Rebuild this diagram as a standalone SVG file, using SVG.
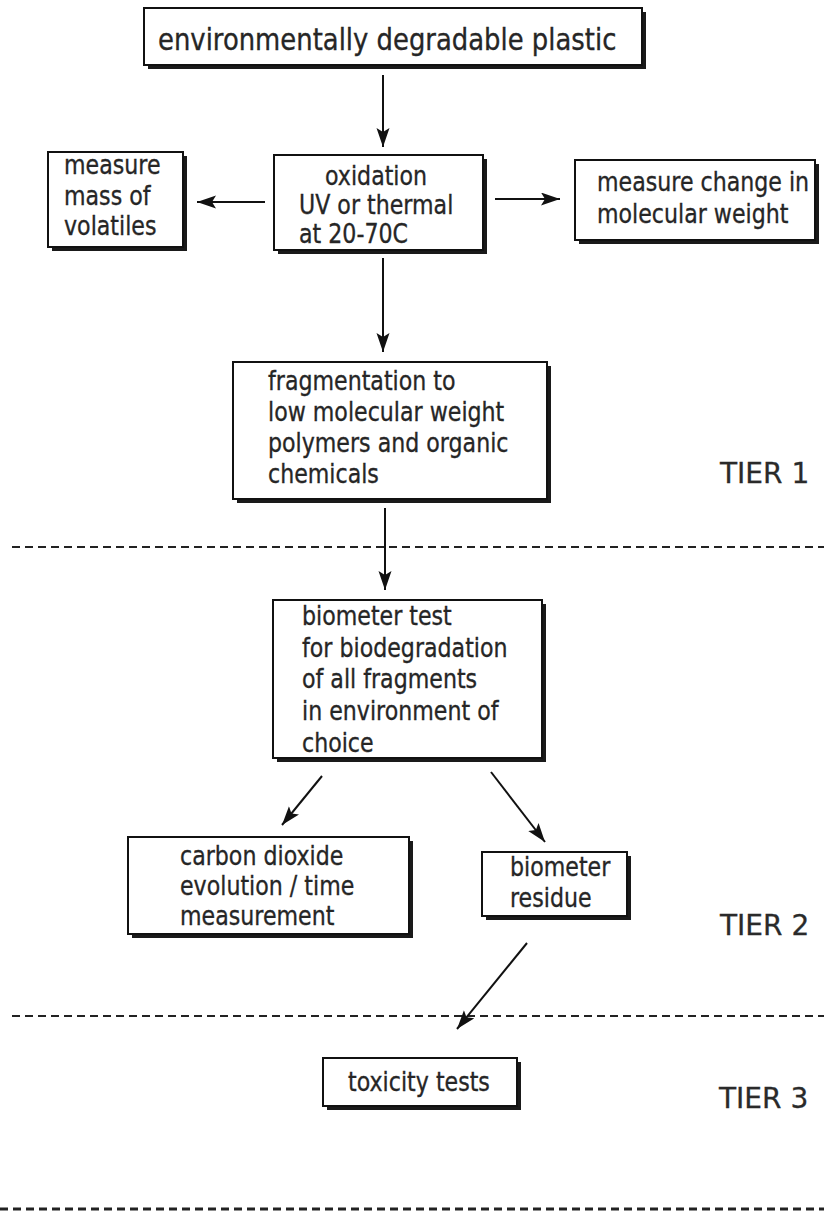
<svg xmlns="http://www.w3.org/2000/svg" width="824" height="1214" viewBox="0 0 824 1214">
<defs>
<style>
.box{fill:#fff;stroke:#111;stroke-width:2}
.sh{fill:#1a1a1a}
.t{font-family:"DejaVu Sans","Liberation Sans",sans-serif;font-size:27px;fill:#262626;stroke:#262626;stroke-width:0.35}
.ti{font-family:"DejaVu Sans","Liberation Sans",sans-serif;font-size:31px;fill:#262626;stroke:#262626;stroke-width:0.35}
.tier{font-family:"DejaVu Sans","Liberation Sans",sans-serif;font-size:28px;fill:#2a2a2a;stroke:#2a2a2a;stroke-width:0.3}
.c{stroke:#111;stroke-width:2;fill:none;marker-end:url(#ah)}
.d{stroke:#222;stroke-width:2;stroke-dasharray:8 5;fill:none}
</style>
<marker id="ah" markerUnits="userSpaceOnUse" markerWidth="21" markerHeight="14" refX="19" refY="6.5" orient="auto">
<path d="M0,0 L19,6.5 L0,13 L4,6.5 z" fill="#111"/>
</marker>
</defs>
<rect width="824" height="1214" fill="#fff"/>

<g id="dividers">
<line class="d" x1="12" y1="547" x2="824" y2="547"/>
<line class="d" x1="12" y1="1016" x2="824" y2="1016"/>
<line class="d" x1="0" y1="1209" x2="824" y2="1209" style="stroke-width:3"/>
</g>

<g id="connectors">
<line class="c" x1="383" y1="75" x2="383" y2="147"/>
<line class="c" x1="265" y1="202" x2="197" y2="202"/>
<line class="c" x1="495" y1="199" x2="560" y2="199"/>
<line class="c" x1="383" y1="258" x2="383" y2="352"/>
<line class="c" x1="385" y1="508" x2="385" y2="590"/>
<line class="c" x1="322" y1="776" x2="282" y2="825"/>
<line class="c" x1="491" y1="772" x2="545" y2="842"/>
<line class="c" x1="527" y1="943" x2="457" y2="1029"/>
</g>

<g id="n-plastic">
<rect class="sh" x="148" y="12" width="498" height="57"/>
<rect class="box" x="144" y="8" width="498" height="57"/>
<text class="ti" transform="translate(158,50) scale(0.835,1)">environmentally degradable plastic</text>
</g>

<g id="n-oxidation">
<rect class="sh" x="278" y="159" width="209" height="95"/>
<rect class="box" x="274" y="155" width="209" height="95"/>
<text class="t" transform="translate(325,185) scale(0.82,1)">oxidation</text>
<text class="t" transform="translate(299,214) scale(0.82,1)">UV or thermal</text>
<text class="t" transform="translate(299,243) scale(0.82,1)">at 20-70C</text>
</g>

<g id="n-volatiles">
<rect class="sh" x="52" y="156" width="135" height="95"/>
<rect class="box" x="48" y="152" width="135" height="95"/>
<text class="t" transform="translate(64,174) scale(0.82,1)">measure</text>
<text class="t" transform="translate(64,205) scale(0.82,1)">mass of</text>
<text class="t" transform="translate(64,235) scale(0.82,1)">volatiles</text>
</g>

<g id="n-molweight">
<rect class="sh" x="579" y="164" width="240" height="80"/>
<rect class="box" x="575" y="160" width="240" height="80"/>
<text class="t" transform="translate(597,191) scale(0.82,1)">measure change in</text>
<text class="t" transform="translate(597,223) scale(0.82,1)">molecular weight</text>
</g>

<g id="n-fragmentation">
<rect class="sh" x="237" y="366" width="314" height="137"/>
<rect class="box" x="233" y="362" width="314" height="137"/>
<text class="t" transform="translate(268,390) scale(0.82,1)">fragmentation to</text>
<text class="t" transform="translate(268,421) scale(0.82,1)">low molecular weight</text>
<text class="t" transform="translate(268,452) scale(0.82,1)">polymers and organic</text>
<text class="t" transform="translate(268,483) scale(0.82,1)">chemicals</text>
</g>

<g id="n-biometer">
<rect class="sh" x="277" y="604" width="269" height="158"/>
<rect class="box" x="273" y="600" width="269" height="158"/>
<text class="t" transform="translate(302,625) scale(0.82,1)">biometer test</text>
<text class="t" transform="translate(302,657) scale(0.82,1)">for biodegradation</text>
<text class="t" transform="translate(302,688) scale(0.82,1)">of all fragments</text>
<text class="t" transform="translate(302,720) scale(0.82,1)">in environment of</text>
<text class="t" transform="translate(302,752) scale(0.82,1)">choice</text>
</g>

<g id="n-co2">
<rect class="sh" x="132" y="841" width="281" height="97"/>
<rect class="box" x="128" y="837" width="281" height="97"/>
<text class="t" transform="translate(180,865) scale(0.82,1)">carbon dioxide</text>
<text class="t" transform="translate(180,895) scale(0.82,1)">evolution / time</text>
<text class="t" transform="translate(180,925) scale(0.82,1)">measurement</text>
</g>

<g id="n-residue">
<rect class="sh" x="486" y="856" width="145" height="64"/>
<rect class="box" x="482" y="852" width="145" height="64"/>
<text class="t" transform="translate(510,876) scale(0.82,1)">biometer</text>
<text class="t" transform="translate(510,907) scale(0.82,1)">residue</text>
</g>

<g id="n-toxicity">
<rect class="sh" x="327" y="1062" width="194" height="48"/>
<rect class="box" x="323" y="1058" width="194" height="48"/>
<text class="t" transform="translate(348,1091) scale(0.82,1)">toxicity tests</text>
</g>

<g id="tiers">
<text class="tier" x="720" y="483">TIER 1</text>
<text class="tier" x="720" y="935">TIER 2</text>
<text class="tier" x="719" y="1108">TIER 3</text>
</g>
</svg>
